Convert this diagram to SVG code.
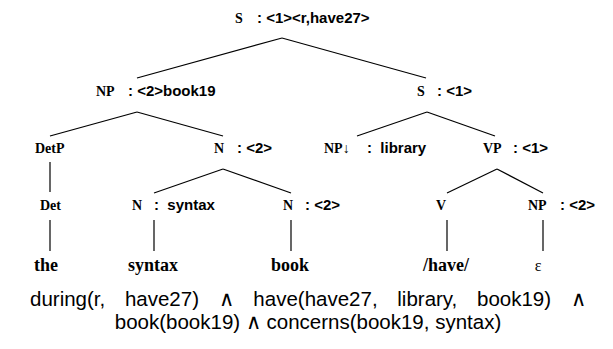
<svg xmlns="http://www.w3.org/2000/svg" width="613" height="349" viewBox="0 0 613 349">
<style>
.cat{font-family:"Liberation Serif","Times New Roman",serif;font-weight:bold;font-size:14px;fill:#000}
.ann{font-family:"Liberation Sans",Arial,sans-serif;font-weight:bold;font-size:15px;fill:#000}
.leaf{font-family:"Liberation Serif","Times New Roman",serif;font-weight:bold;font-size:18px;fill:#000}
.eps{font-family:"Liberation Serif","Times New Roman",serif;font-size:16px;fill:#000}
.form{font-family:"Liberation Sans",Arial,sans-serif;font-size:20.5px;fill:#000}
.edge{stroke:#000;stroke-width:1.2;fill:none}
</style>
<rect width="613" height="349" fill="#fff"/>
<g id="connectors">
<line class="edge" x1="282" y1="38" x2="137" y2="78"/>
<line class="edge" x1="282" y1="38" x2="426" y2="78"/>
<line class="edge" x1="137" y1="112" x2="50" y2="136"/>
<line class="edge" x1="137" y1="112" x2="223" y2="136"/>
<line class="edge" x1="427" y1="112" x2="357" y2="136"/>
<line class="edge" x1="427" y1="112" x2="495" y2="136"/>
<line class="edge" x1="50" y1="162" x2="50" y2="192"/>
<line class="edge" x1="223" y1="169" x2="154" y2="193"/>
<line class="edge" x1="223" y1="169" x2="291" y2="193"/>
<line class="edge" x1="497" y1="169" x2="447" y2="193"/>
<line class="edge" x1="497" y1="169" x2="543" y2="193"/>
<line class="edge" x1="50" y1="220" x2="50" y2="251"/>
<line class="edge" x1="154" y1="220" x2="154" y2="251"/>
<line class="edge" x1="291" y1="220" x2="291" y2="251"/>
<line class="edge" x1="447" y1="220" x2="447" y2="251"/>
<line class="edge" x1="543" y1="220" x2="543" y2="251"/>
</g>
<g id="S-root"><text class="cat" x="235" y="23">S</text><text class="ann" x="257" y="23">: &lt;1&gt;&lt;r,have27&gt;</text></g>
<g id="NP-book"><text class="cat" x="96" y="96">NP</text><text class="ann" x="128" y="96">: &lt;2&gt;book19</text></g>
<g id="S-sub"><text class="cat" x="417" y="96">S</text><text class="ann" x="437" y="96">: &lt;1&gt;</text></g>
<g id="DetP"><text class="cat" x="35" y="153">DetP</text></g>
<g id="N-top"><text class="cat" x="214" y="153">N</text><text class="ann" x="237" y="153">: &lt;2&gt;</text></g>
<g id="NP-subst"><text class="cat" x="324" y="153">NP↓</text><text class="ann" x="367" y="153" xml:space="preserve">:  library</text></g>
<g id="VP"><text class="cat" x="483" y="153">VP</text><text class="ann" x="513" y="153">: &lt;1&gt;</text></g>
<g id="Det"><text class="cat" x="40" y="210">Det</text></g>
<g id="N-syntax"><text class="cat" x="132" y="210">N</text><text class="ann" x="154" y="210" xml:space="preserve">:  syntax</text></g>
<g id="N-book"><text class="cat" x="283" y="210">N</text><text class="ann" x="305" y="210">: &lt;2&gt;</text></g>
<g id="V"><text class="cat" x="436" y="210">V</text></g>
<g id="NP-eps"><text class="cat" x="528" y="210">NP</text><text class="ann" x="560" y="210">: &lt;2&gt;</text></g>
<g id="leaf-the"><text class="leaf" x="46" y="271" text-anchor="middle">the</text></g>
<g id="leaf-syntax"><text class="leaf" x="153" y="271" text-anchor="middle">syntax</text></g>
<g id="leaf-book"><text class="leaf" x="290" y="271" text-anchor="middle">book</text></g>
<g id="leaf-have"><text class="leaf" x="446" y="271" text-anchor="middle">/have/</text></g>
<g id="leaf-eps"><text class="eps" x="538" y="271" text-anchor="middle">ε</text></g>
<g id="formula">
<text class="form" x="30" y="306" word-spacing="14">during(r, have27) ∧ have(have27, library, book19) ∧</text>
<text class="form" x="308" y="329" text-anchor="middle">book(book19) ∧ concerns(book19, syntax)</text>
</g>
</svg>
